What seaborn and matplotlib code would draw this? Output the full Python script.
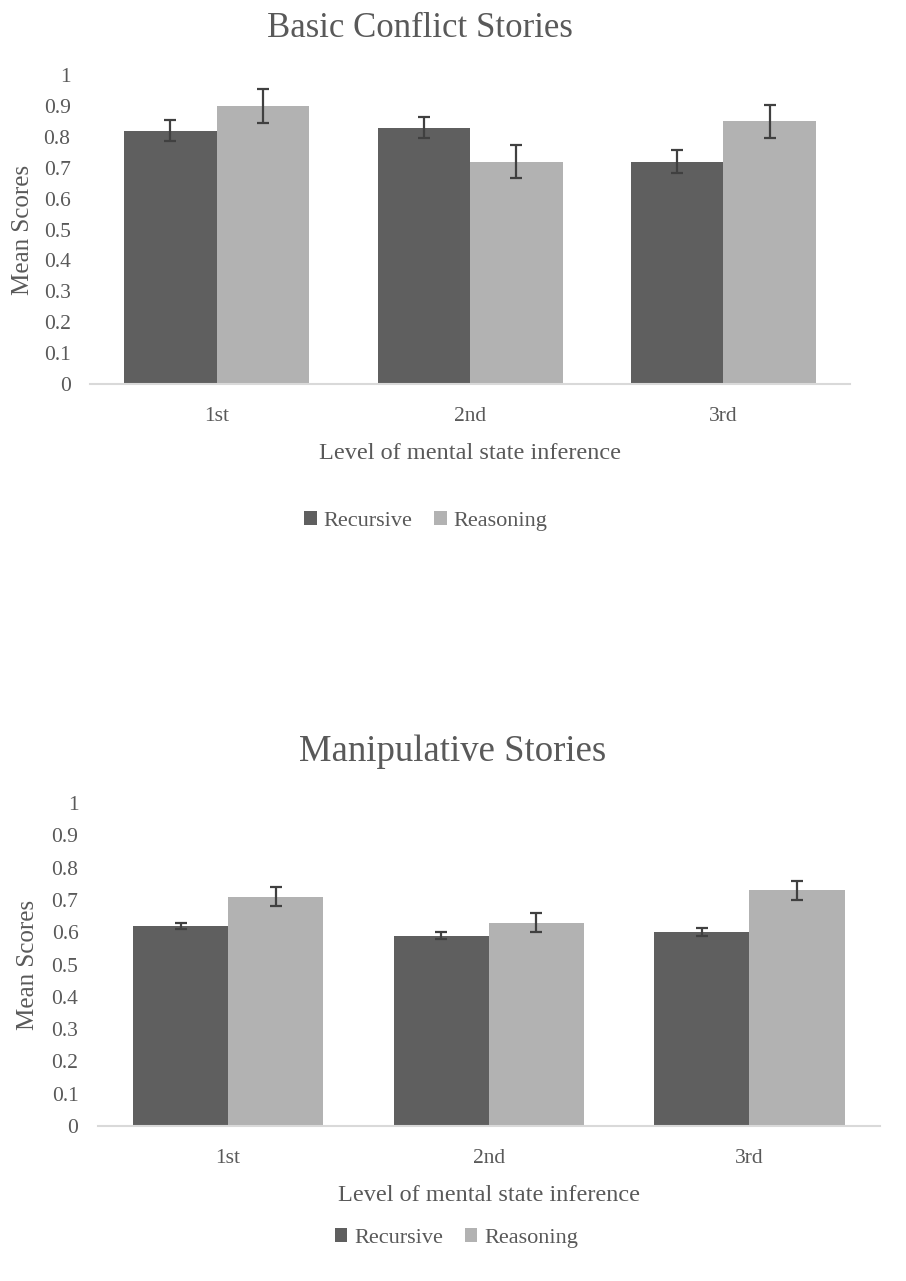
import pandas as pd
import numpy as np
import matplotlib
matplotlib.use("Agg")
import matplotlib.pyplot as plt
import seaborn as sns

# Data
levels = ["1st", "2nd", "3rd"]
conditions = ["Recursive", "Reasoning"]

basic_recursive = [0.82, 0.83, 0.72]
basic_reasoning = [0.90, 0.72, 0.85]
basic_recursive_err = [0.035, 0.033, 0.037]
basic_reasoning_err = [0.055, 0.053, 0.053]

manip_recursive = [0.62, 0.59, 0.60]
manip_reasoning = [0.71, 0.63, 0.73]
manip_recursive_err = [0.010, 0.010, 0.012]
manip_reasoning_err = [0.030, 0.030, 0.030]

yticks = [0, 0.1, 0.2, 0.3, 0.4, 0.5, 0.6, 0.7, 0.8, 0.9, 1]
ytick_labels = ["0", "0.1", "0.2", "0.3", "0.4", "0.5", "0.6", "0.7", "0.8", "0.9", "1"]

sns.set_style("white")
plt.rcParams['font.family'] = ['Liberation Serif', 'DejaVu Serif']

text_col = "#595959"
palette = {"Recursive": "#5f5f5f", "Reasoning": "#b2b2b2"}


def draw_panel(ax, rec, rea, rec_err, rea_err, ylab_x):
    df = pd.DataFrame({
        "level": levels * 2,
        "condition": ["Recursive"] * 3 + ["Reasoning"] * 3,
        "score": rec + rea,
    })
    sns.barplot(data=df, x="level", y="score", hue="condition", order=levels,
                hue_order=conditions, palette=palette, errorbar=None,
                width=0.73, saturation=1, linewidth=0, ax=ax)
    # error bars at bar centres
    errs = rec_err + rea_err
    vals = rec + rea
    bars = [p for p in ax.patches if p.get_height() > 0][:6]
    xs = [b.get_x() + b.get_width() / 2 for b in bars]
    ax.errorbar(xs, vals, yerr=errs, fmt="none", ecolor="#404040",
                elinewidth=1.6, capsize=4, capthick=1.6, zorder=5)

    ax.set_ylim(0, 1)
    ax.set_xlim(-0.5, 2.5)
    ax.set_yticks(yticks)
    ax.set_yticklabels(ytick_labels)
    ax.tick_params(axis="both", length=0, labelsize=15.5, colors=text_col, pad=14)
    ax.tick_params(axis="x", pad=16.5)
    for s in ["top", "right", "left"]:
        ax.spines[s].set_visible(False)
    ax.spines["bottom"].set_color("#d9d9d9")
    ax.spines["bottom"].set_linewidth(1.5)
    ax.set_ylabel("Mean Scores", fontsize=18, color=text_col)
    ax.yaxis.set_label_coords(ylab_x, 0.5)
    ax.set_xlabel("Level of mental state inference", fontsize=17.5,
                  color=text_col, labelpad=12)
    handles, labels = ax.get_legend_handles_labels()
    ax.get_legend().remove()
    return handles, labels


fig = plt.figure(figsize=(9.06, 12.81), dpi=100)
ax1 = fig.add_axes([0.0993, 0.7002, 0.839, 0.2412])
ax2 = fig.add_axes([0.108, 0.121, 0.863, 0.252])

h1, l1 = draw_panel(ax1, basic_recursive, basic_reasoning,
                    basic_recursive_err, basic_reasoning_err, -0.073)
h2, l2 = draw_panel(ax2, manip_recursive, manip_reasoning,
                    manip_recursive_err, manip_reasoning_err, -0.075)

fig.text(0.4636, 0.978, "Basic Conflict Stories", fontsize=25,
         color=text_col, ha="center", va="center")
fig.text(0.5, 0.4135, "Manipulative Stories", fontsize=26.5,
         color=text_col, ha="center", va="center")

leg_kw = dict(loc="center", ncol=2, frameon=False, fontsize=16,
              handlelength=0.55, handleheight=0.55, handletextpad=0.3,
              columnspacing=1.0, labelcolor=text_col)
fig.legend(h1, l1, bbox_to_anchor=(0.470, 0.5933), **leg_kw)
fig.legend(h2, l2, bbox_to_anchor=(0.504, 0.0336), **leg_kw)

fig.savefig("out.png", dpi=100)
